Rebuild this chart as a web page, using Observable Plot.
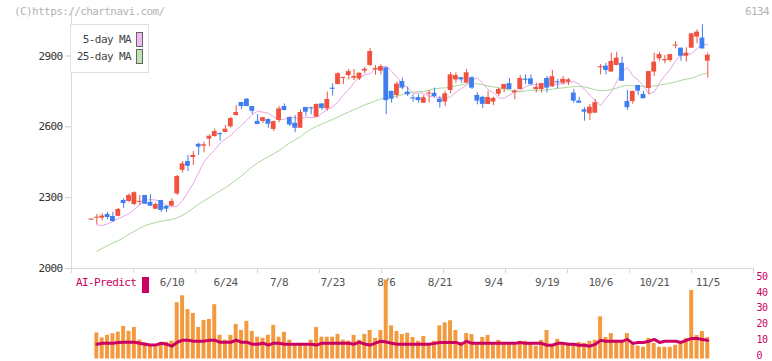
<!DOCTYPE html>
<html><head><meta charset="utf-8">
<script src="https://cdn.jsdelivr.net/npm/d3@7"></script>
<script src="https://cdn.jsdelivr.net/npm/@observablehq/plot@0.6"></script>
<style>
html,body{margin:0;padding:0;background:#fff;}
#wrap{position:relative;width:772px;height:361px;overflow:hidden;font-family:"DejaVu Sans Mono",monospace;}
#wrap svg{position:absolute;left:0;}
.t{position:absolute;font-size:11px;letter-spacing:-0.6px;white-space:pre;line-height:13px;}
</style></head><body><div id="wrap"></div>
<script>
// ---- data (2025-05-20 .. 2025-11-05) ----
const opens = [2205,2213,2213,2229,2220,2221,2288,2284,2271,2280,
2309,2280,2251,2288,2263,2264,2316,2416,2453,2470,
2526,2518,2548,2559,2570,2576,2600,2648,2703,2717,
2686,2623,2623,2631,2589,2627,2686,2639,2615,2594,
2682,2680,2641,2697,2676,2763,2779,2805,2817,2806,
2803,2836,2860,2841,2836,2850,2750,2733,2792,2747,
2722,2724,2700,2739,2742,2717,2705,2754,2799,2808,
2785,2808,2733,2725,2695,2705,2738,2759,2783,2744,
2758,2802,2803,2758,2758,2805,2769,2790,2785,2789,
2743,2709,2672,2655,2658,2850,2857,2832,2860,2869,
2707,2707,2775,2737,2762,2832,2888,2880,2881,2942,
2933,2899,2933,2980,2976,2878];
const highs = [2208,2229,2232,2238,2238,2255,2295,2316,2325,2309,
2310,2313,2278,2289,2267,2295,2394,2453,2479,2495,
2531,2535,2566,2591,2575,2606,2641,2690,2704,2721,
2687,2652,2640,2634,2624,2686,2697,2640,2648,2672,
2683,2683,2696,2698,2747,2782,2829,2809,2843,2843,
2828,2853,2932,2860,2863,2851,2751,2790,2806,2768,
2736,2736,2733,2754,2764,2728,2751,2829,2829,2809,
2843,2812,2744,2730,2750,2725,2764,2780,2805,2757,
2817,2820,2820,2785,2785,2813,2839,2801,2813,2805,
2759,2725,2681,2695,2716,2864,2869,2912,2916,2895,
2754,2751,2776,2750,2835,2912,2916,2902,2907,2961,
2934,2935,2995,3011,3033,2913];
const lows = [2204,2185,2202,2207,2196,2219,2255,2280,2267,2267,
2271,2263,2250,2237,2238,2263,2309,2405,2411,2436,
2479,2490,2516,2556,2539,2575,2595,2645,2673,2685,
2652,2609,2615,2594,2580,2617,2668,2601,2575,2593,
2645,2651,2640,2669,2666,2730,2778,2779,2799,2796,
2796,2825,2855,2819,2820,2652,2700,2719,2757,2728,
2704,2700,2699,2702,2723,2679,2686,2740,2785,2785,
2784,2758,2693,2677,2694,2690,2728,2744,2757,2714,
2757,2779,2775,2744,2743,2743,2768,2761,2778,2775,
2700,2699,2624,2627,2657,2820,2820,2831,2859,2792,
2670,2696,2733,2718,2736,2813,2878,2867,2874,2930,
2878,2874,2932,2952,2929,2806];
const closes = [2207,2217,2222,2216,2199,2250,2275,2309,2321,2283,
2272,2264,2271,2246,2251,2284,2390,2443,2433,2479,
2514,2524,2560,2580,2567,2590,2635,2661,2686,2686,
2666,2610,2639,2611,2622,2676,2669,2608,2594,2661,
2662,2676,2695,2678,2716,2759,2825,2808,2834,2813,
2827,2844,2919,2847,2855,2711,2717,2781,2764,2736,
2718,2711,2723,2742,2728,2703,2740,2820,2817,2799,
2829,2764,2709,2695,2724,2720,2758,2779,2758,2751,
2805,2797,2779,2767,2783,2764,2812,2786,2801,2799,
2709,2700,2662,2683,2702,2854,2839,2877,2891,2793,
2681,2750,2751,2719,2834,2874,2906,2885,2906,2946,
2899,2912,2994,3001,2930,2903];
const ma5 = [null,2185,2182,2189,2199,2212,2221,2232,2250,2271,
2288,2292,2290,2282,2267,2261,2263,2288,2323,2360,
2406,2452,2479,2502,2531,2549,2564,2586,2607,2628,
2652,2667,2662,2657,2642,2630,2632,2643,2637,2634,
2642,2639,2640,2658,2674,2685,2705,2735,2757,2788,
2808,2821,2825,2847,2850,2858,2835,2810,2782,2766,
2742,2743,2742,2730,2726,2724,2721,2727,2747,2762,
2776,2801,2806,2784,2759,2744,2722,2721,2735,2748,
2753,2770,2778,2778,2780,2786,2778,2781,2782,2789,
2792,2781,2759,2734,2711,2691,2720,2748,2791,2833,
2851,2816,2798,2773,2739,2747,2786,2817,2844,2881,
2903,2908,2910,2931,2950,2947];
const ma25 = [null,2073,2085,2097,2108,2118,2130,2145,2158,2170,
2182,2189,2195,2200,2204,2208,2215,2226,2240,2256,
2272,2287,2301,2315,2329,2343,2358,2375,2393,2412,
2431,2448,2461,2474,2486,2499,2516,2532,2545,2559,
2576,2591,2602,2612,2622,2631,2641,2653,2663,2673,
2683,2693,2701,2711,2718,2725,2726,2731,2736,2742,
2747,2749,2750,2755,2761,2764,2765,2768,2773,2778,
2782,2784,2782,2778,2773,2769,2765,2761,2756,2752,
2748,2752,2755,2755,2755,2757,2759,2763,2765,2768,
2770,2771,2769,2763,2757,2753,2754,2757,2764,2772,
2775,2773,2773,2772,2770,2774,2776,2781,2785,2790,
2797,2802,2806,2815,2823,2828];
const volume = [null,16.5,13.3,15,16,17,20.6,17.5,20,11.9,
10.2,8.3,7.7,10.2,10.6,11.3,35.6,40,31.3,28.8,
20,24.4,25,34.4,15,11.9,15,21.9,18.1,23.8,
17.5,13.8,13.1,15,21.3,13.8,16.9,11.9,9.4,9.4,
8.1,11.9,20,13.8,13.8,13.8,15.6,11.9,11.3,15,
11.9,15.6,18.1,13.1,18,50,21,17.4,15.5,16.3,
13.6,11.2,14.3,9.7,11.2,21,22.9,24.2,18,10.5,
16.1,15.5,9.3,13.6,14.9,9.3,11.8,9.7,9.3,9.3,
11.2,11.2,9.3,8.1,11.8,18,9.3,12.4,9.3,9.9,
8.7,10.5,9.9,11.2,11.8,26.7,13.6,16.1,10.5,11.2,
16.1,9.3,8.1,7.4,13,9.9,7.4,7.4,7.4,8.7,
10.5,13,43.4,14.9,17.4,13.6];
const aiPredict = [null,9.4,10,10,10,10.4,10.6,10.6,10.6,10,
9.4,8.8,8.8,10,9.4,8.1,10.6,11.9,11.9,11.3,
11.3,11.3,11.9,11.9,10.6,10.6,10.6,11.9,10.6,10.6,
9.4,9.4,10,8.8,10,10,9.4,9.4,9.4,9.4,
9.4,9.4,8.8,10,10,10,10,10,10,9.4,
10.6,9.4,8.8,10,11.3,10.8,10,9.3,9.3,9.3,
9.3,9.3,9.3,9.3,9.9,10.5,10.5,10.5,10.5,9.3,
11.2,9.9,9.9,9.9,9.9,9.9,9.9,9.9,9.9,9.9,
10.5,9.9,9.9,9.9,9.9,8.7,8.7,9.9,9.9,9.3,
9.3,8.7,8.7,8.1,9.3,11.8,11.2,11.2,11.2,11.2,
12.4,9.9,10.5,10.5,11.2,12.4,10.5,11.2,11.2,11.2,
10.5,11.8,13,13,12.4,11.8];
const labelDates = ["6/10","6/24","7/8","7/23","8/6","8/21","9/4","9/19","10/6","10/21","11/5"];
const priceTicks = [2000,2300,2600,2900];
const volumeTicks = [0,10,20,30,40,50];
const axisTicks = [-2.73,8.84,20.41,31.98,43.55,55.12,66.69,78.26,89.83,101.4,112.97,124.53];
const holidays = ["2025-07-21","2025-08-11","2025-09-15","2025-09-23","2025-10-13","2025-11-03"];

// ---- trading calendar (weekdays minus Japanese holidays) ----
const fmt = d3.utcFormat("%Y-%m-%d");
const dates = d3.utcDays(new Date(Date.UTC(2025,4,20)), new Date(Date.UTC(2025,10,6)))
  .filter(d => d.getUTCDay() % 6 !== 0 && !holidays.includes(fmt(d)));
const md = d3.utcFormat("%-m/%-d");
const slotOf = s => dates.findIndex(d => md(d) === s) + 1;

const RED = "#f1523f", BLUE = "#3f7ef1", PINK = "#e6a6e6", GREEN = "#a8d99c";
const ORANGE = "#f39a3f", CRIMSON = "#cc0062";
const xDomain = [axisTicks[0], axisTicks[axisTicks.length - 1]];
const slots = d3.range(1, closes.length + 1);
const candles = slots.map((s, i) => ({s, o: opens[i], h: highs[i], l: lows[i], c: closes[i]}));
const col = d => d.c >= d.o ? RED : BLUE;
const font = {background: "transparent", fontFamily: "'DejaVu Sans Mono', monospace", fontSize: "11px", letterSpacing: "-0.6px", overflow: "visible"};

const price = Plot.plot({
  width: 772, height: 275, marginLeft: 71, marginRight: 19, marginTop: 13, marginBottom: 7,
  x: {type: "linear", domain: xDomain, axis: null},
  y: {domain: [2000, 3080], axis: null},
  style: font,
  marks: [
    Plot.axisX({ticks: axisTicks, tickSize: 5, tickFormat: () => "", label: null, stroke: "#d4d4d4"}),
    Plot.axisY({ticks: priceTicks, tickSize: 6, tickPadding: 3, tickFormat: d => String(d), label: null, stroke: "#cfcfcf", fill: "#333"}),
    Plot.ruleY([priceTicks[0]], {stroke: "#dcdcdc"}),
    Plot.ruleX([xDomain[0]], {stroke: "#dcdcdc"}),
    Plot.line(slots, {x: s => s, y: s => ma25[s - 1], stroke: GREEN, strokeWidth: 1}),
    Plot.line(slots, {x: s => s, y: s => ma5[s - 1], stroke: PINK, strokeWidth: 1}),
    Plot.ruleX(candles, {x: "s", y1: "l", y2: "h", stroke: col, strokeWidth: 1}),
    Plot.rect(candles, {
      x1: d => d.s - 0.45, x2: d => d.s + 0.45,
      y1: d => Math.min(d.o, d.c),
      y2: d => Math.max(d.o, d.c, Math.min(d.o, d.c) + 4.5),
      fill: col
    })
  ]
});
price.style.top = "0px";

const volData = slots.filter(s => volume[s - 1] != null).map(s => ({s, v: volume[s - 1], a: aiPredict[s - 1]}));
const vol = Plot.plot({
  width: 772, height: 91, marginLeft: 71, marginRight: 19, marginTop: 9.5, marginBottom: 2.5,
  x: {type: "linear", domain: xDomain, axis: null},
  y: {domain: [0, 50], axis: null},
  style: font,
  marks: [
    Plot.text(labelDates, {x: slotOf, text: d => d, frameAnchor: "top", lineAnchor: "middle", dy: 2.5, fill: "#555"}),
    Plot.rect(volData, {x1: d => d.s - 0.37, x2: d => d.s + 0.37, y1: 0, y2: "v", fill: ORANGE}),
    Plot.line(volData, {x: "s", y: "a", stroke: CRIMSON, strokeWidth: 3}),
    Plot.axisY({anchor: "right", ticks: volumeTicks, tickSize: 0, tickPadding: 3, label: null, dy: -3.5, fontSize: 10, color: CRIMSON})
  ]
});
vol.style.top = "270px";

const wrap = document.getElementById("wrap");
wrap.append(price, vol);
wrap.insertAdjacentHTML("beforeend", `
<div class="t" style="left:14px;top:5px;color:#b3b3b3">(C)https://chartnavi.com/</div>
<div class="t" style="right:3px;top:5px;color:#b3b3b3">6134</div>
<div style="position:absolute;left:70px;top:24px;width:77px;height:47px;border:1px solid #e0e0e0;background:#fff">
  <div class="t" style="right:17px;top:8px;color:#444">5-day MA</div>
  <div class="t" style="right:17px;top:25px;color:#444">25-day MA</div>
  <div style="position:absolute;left:65px;top:7px;width:5px;height:13px;border:1px solid #666;background:#f0b8f0"></div>
  <div style="position:absolute;left:65px;top:24px;width:5px;height:13px;border:1px solid #666;background:#bde3b3"></div>
</div>
<div class="t" style="left:76px;top:276px;color:${CRIMSON}">AI-Predict</div>
<div style="position:absolute;left:142px;top:277px;width:7px;height:16px;background:${CRIMSON}"></div>
`);
</script></body></html>
